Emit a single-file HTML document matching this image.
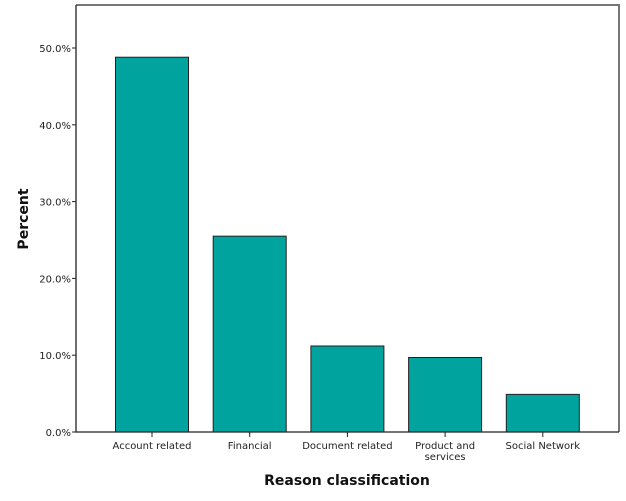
<!DOCTYPE html>
<html><head><meta charset="utf-8"><style>
html,body{margin:0;padding:0;background:#fff;}
svg{display:block;font-family:"DejaVu Sans","Liberation Sans",sans-serif;}
</style></head><body>
<svg id="chart" width="626" height="501" viewBox="0 0 626 501"></svg>
<script>
const categories = ["Account related","Financial","Document related","Product and|services","Social Network"];
const values = [48.8, 25.5, 11.2, 9.7, 4.9];
const ticks = [0,10,20,30,40,50];
const tickLabels = ["0.0%","10.0%","20.0%","30.0%","40.0%","50.0%"];

const NS="http://www.w3.org/2000/svg";
const svg=document.getElementById('chart');
const x0=76, x1=619, yTop=5, y0=432, y50=48;
function yScale(v){return y0-(y0-y50)*v/50;}
const step=97.7, firstCenter=152, barW=73;
function xCenter(i){return firstCenter+i*step;}
function mk(tag,attrs,text){const e=document.createElementNS(NS,tag);for(const k in attrs)e.setAttribute(k,attrs[k]);if(text!==undefined)e.textContent=text;svg.appendChild(e);return e;}

let fr=mk('path',{d:`M${x0} ${yTop}H${x1}V${y0}`,fill:'none',stroke:'#777','stroke-width':2});



values.forEach((v,i)=>{
  const b=mk('rect',{x:xCenter(i)-barW/2,y:yScale(v),width:barW,height:y0-yScale(v),fill:'#00a39e',stroke:'#222','stroke-width':1});
  
  
});

let ax=mk('path',{d:`M${x0} ${yTop}V${y0}H${x1}`,fill:'none',stroke:'#222','stroke-width':1.3});



ticks.forEach((t,i)=>{
  const y=yScale(t);
  const tk=mk('line',{x1:x0-4,x2:x0,y1:y,y2:y,stroke:'#222'});
  
  
  const l=mk('text',{x:x0-5,y:y+4,'text-anchor':'end','font-size':10,fill:'#222'},tickLabels[i]);
  
  
});

categories.forEach((c,i)=>{
  const x=xCenter(i);
  const tk=mk('line',{x1:x,x2:x,y1:y0,y2:y0+5,stroke:'#222'});
  
  
  c.split('|').forEach((ln,j)=>{
    const l=mk('text',{x:x,y:y0+17+j*11,'text-anchor':'middle','font-size':10,fill:'#222'},ln);
    
    
  });
});

let xt=mk('text',{x:347,y:485,'text-anchor':'middle','font-size':14,'font-weight':'bold',fill:'#111'},'Reason classification');


let yt=mk('text',{x:0,y:0,'text-anchor':'middle','font-size':14,'font-weight':'bold',fill:'#111',transform:'translate(28,219) rotate(-90)'},'Percent');


</script>
</body></html>
